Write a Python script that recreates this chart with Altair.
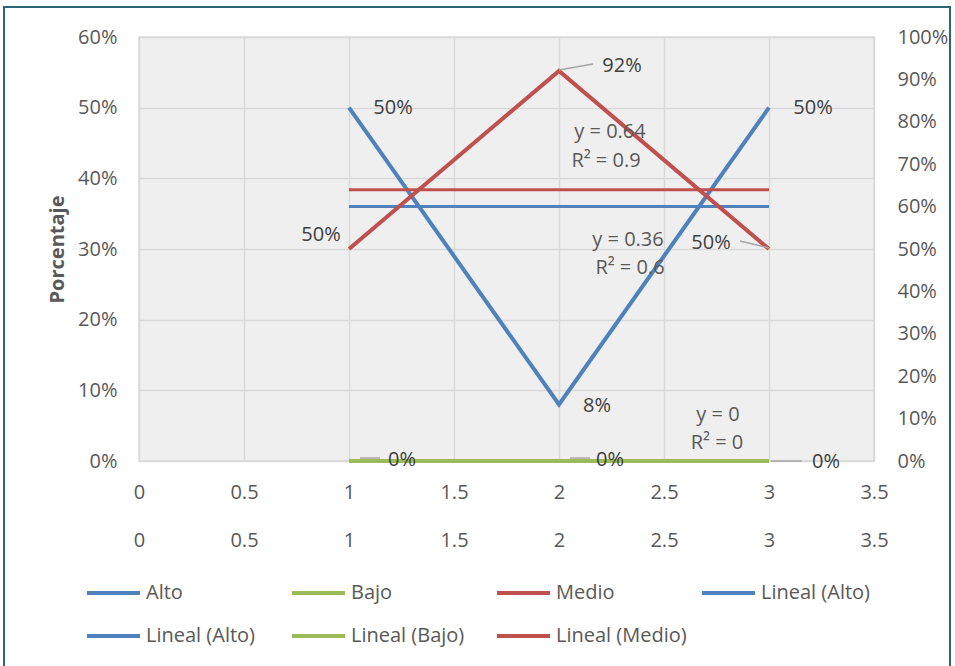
import altair as alt
import pandas as pd

# ---------------- data ----------------
x_vals = [1, 2, 3]
alto = [0.50, 0.08, 0.50]
bajo = [0.00, 0.00, 0.00]
medio = [0.50, 0.92, 0.50]

series_names = ["Alto", "Bajo", "Medio", "Lineal (Alto)", "Lineal (Alto) ",
                "Lineal (Bajo)", "Lineal (Medio)"]
series_colors = ["#4f81bd", "#9bbb59", "#c0504d", "#4f81bd", "#4f81bd",
                 "#9bbb59", "#c0504d"]

x_ticks = [0, 0.5, 1, 1.5, 2, 2.5, 3, 3.5]
left_ticks = [0, 0.1, 0.2, 0.3, 0.4, 0.5, 0.6]
right_ticks = [0, 0.1, 0.2, 0.3, 0.4, 0.5, 0.6, 0.7, 0.8, 0.9, 1.0]

eq_text = {
    "Alto": ["y = 0.36", "R² = 0.6"],
    "Bajo": ["y = 0", "R² = 0"],
    "Medio": ["y = 0.64", "R² = 0.9"],
}

dfA = pd.DataFrame({"x": x_vals * 2, "y": alto + bajo,
                    "serie": ["Alto"] * 3 + ["Bajo"] * 3})
dfB = pd.DataFrame({"x": x_vals, "y": medio, "serie": ["Medio"] * 3})

# ---------------- styles ----------------
FONT = "Open Sans"
LBL = "#595959"
TXT = "#404040"
GRID = "#d9d9d9"
LEAD = "#a6a6a6"

color_scale = alt.Scale(domain=series_names, range=series_colors)
legend = alt.Legend(title=None, orient="none", legendX=-54, legendY=546,
                    columns=4, direction="horizontal", symbolType="stroke",
                    symbolSize=2809, symbolStrokeWidth=4, clipHeight=20,
                    rowPadding=23, columnPadding=13, gridAlign="all",
                    labelFont=FONT, labelFontSize=20, labelColor=LBL,
                    labelOffset=4, padding=0)

axis_common = dict(domain=False, ticks=False, tickSize=0, labelFont=FONT,
                   labelFontSize=20, labelColor=LBL)

xA = alt.X("x:Q", scale=alt.Scale(domain=[0, 3.5], nice=False, zero=False),
           axis=alt.Axis(values=x_ticks, format="~g", title=None, grid=True,
                         gridColor=GRID, gridWidth=1.5, labelPadding=21,
                         labelFlush=False, **axis_common))
yA = alt.Y("y:Q", scale=alt.Scale(domain=[0, 0.6], nice=False),
           axis=alt.Axis(values=left_ticks, format=".0%", title="Porcentaje",
                         grid=True, gridColor=GRID, gridWidth=1.5,
                         labelPadding=22, titleFont=FONT, titleFontSize=20,
                         titleFontWeight="bold", titleColor=LBL, titleX=-82,
                         titleY=212, titleAngle=270, titleBaseline="middle",
                         titleAlign="center", **axis_common))
xB = alt.X("x:Q", scale=alt.Scale(domain=[0, 3.5], nice=False, zero=False),
           axis=alt.Axis(values=x_ticks, format="~g", title=None, grid=False,
                         orient="bottom", offset=48, labelPadding=21,
                         labelFlush=False, **axis_common))
yB = alt.Y("y:Q", scale=alt.Scale(domain=[0, 1], nice=False),
           axis=alt.Axis(values=right_ticks, format=".0%", title=None,
                         grid=False, orient="right", labelPadding=23,
                         **axis_common))


def series_line(df, xe, ye):
    return alt.Chart(df).mark_line(strokeWidth=4).encode(
        x=xe, y=ye, color=alt.Color("serie:N", scale=color_scale, legend=legend))


def trend_line(df, xe, ye):
    # least-squares line of these symmetric series is flat at the series mean
    return (alt.Chart(df)
            .transform_joinaggregate(m="mean(y)", groupby=["serie"])
            .transform_calculate(y="datum.m",
                                 t="'Lineal (' + datum.serie + ')'")
            .mark_line(strokeWidth=3)
            .encode(x=xe, y=ye,
                    color=alt.Color("t:N", scale=color_scale, legend=legend)))


def pt_label(df, serie, xv, dx, dy, xe, ye):
    return (alt.Chart(df)
            .transform_filter(f"datum.serie == '{serie}' && datum.x == {xv}")
            .mark_text(font=FONT, fontSize=20, color=TXT, dx=dx, dy=dy)
            .encode(x=xe, y=ye, text=alt.Text("y:Q", format=".0%")))


def leader(df, serie, xv, x0, y0, x1, y1, xe, ye):
    return (alt.Chart(df)
            .transform_filter(f"datum.serie == '{serie}' && datum.x == {xv}")
            .mark_rule(color=LEAD, strokeWidth=1.5, xOffset=x0, yOffset=y0,
                       x2Offset=x1, y2Offset=y1)
            .encode(x=xe, y=ye, x2=alt.X2("x"), y2=alt.Y2("y")))


def eq_label(df, serie, i, dx, dy, xe, ye):
    return (alt.Chart(df)
            .transform_filter(f"datum.serie == '{serie}'")
            .transform_joinaggregate(m="mean(y)")
            .transform_calculate(y="datum.m")
            .transform_filter("datum.x == 1")
            .mark_text(font=FONT, fontSize=20, color=LBL, dx=dx, dy=dy)
            .encode(x=xe, y=ye, text=alt.value(eq_text[serie][i])))


frame = alt.Chart(pd.DataFrame({"k": [0]})).mark_rect(
    fill="white", fillOpacity=0, stroke="#2b6675", strokeWidth=2
).encode(x=alt.value(-135), x2=alt.value(811), y=alt.value(-30), y2=alt.value(640))

layerA = alt.layer(
    frame,
    series_line(dfA, xA, yA),
    trend_line(dfA, xA, yA),
    leader(dfA, "Bajo", 1, 11, -3, 31, -3, xA, yA),
    leader(dfA, "Bajo", 2, 11, -3, 31, -3, xA, yA),
    leader(dfA, "Bajo", 3, 2, 0, 33, 0, xA, yA),
    pt_label(dfA, "Alto", 1, 44, 0, xA, yA),
    pt_label(dfA, "Alto", 2, 38, 2, xA, yA),
    pt_label(dfA, "Alto", 3, 44, 0, xA, yA),
    pt_label(dfA, "Bajo", 1, 53, -1, xA, yA),
    pt_label(dfA, "Bajo", 2, 51, -1, xA, yA),
    pt_label(dfA, "Bajo", 3, 57, 1, xA, yA),
    eq_label(dfA, "Alto", 0, 279, 33, xA, yA),
    eq_label(dfA, "Alto", 1, 281, 61, xA, yA),
    eq_label(dfA, "Bajo", 0, 369, -46, xA, yA),
    eq_label(dfA, "Bajo", 1, 368, -18, xA, yA),
)

layerB = alt.layer(
    series_line(dfB, xB, yB),
    trend_line(dfB, xB, yB),
    leader(dfB, "Medio", 2, 0, -1, 34, -7, xB, yB),
    leader(dfB, "Medio", 3, -29, -8, 0, -1, xB, yB),
    pt_label(dfB, "Medio", 1, -28, -14, xB, yB),
    pt_label(dfB, "Medio", 2, 63, -5, xB, yB),
    pt_label(dfB, "Medio", 3, -58, -6, xB, yB),
    eq_label(dfB, "Medio", 0, 261, -58, xB, yB),
    eq_label(dfB, "Medio", 1, 257, -29, xB, yB),
)

chart = (alt.layer(layerA, layerB)
         .resolve_scale(x="independent", y="independent")
         .properties(width=735, height=424,
                     autosize=alt.AutoSizeParams(type="none"),
                     padding={"left": 139, "top": 37, "right": 81, "bottom": 205})
         .configure(background="white")
         .configure_view(fill="#efefef", stroke=GRID, strokeWidth=1.5))

chart.save("out.html", embed_options={"renderer": "svg", "actions": False})
